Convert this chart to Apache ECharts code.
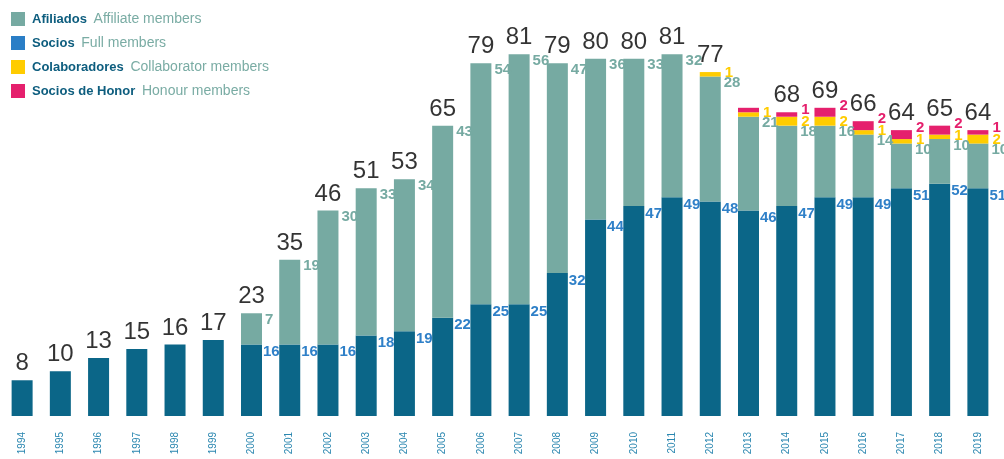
<!DOCTYPE html>
<html>
<head>
<meta charset="utf-8">
<script src="https://cdn.jsdelivr.net/npm/echarts@6/dist/echarts.min.js"></script>
<style>
  html, body { margin: 0; padding: 0; background: #fff; }
  #chart { width: 1004px; height: 459px; }
</style>
</head>
<body>
<div id="chart"></div>
<script>
const years = ['1994','1995','1996','1997','1998','1999','2000','2001','2002','2003','2004','2005','2006',
  '2007','2008','2009','2010','2011','2012','2013','2014','2015','2016','2017','2018','2019'];
const fullMembers = [8,10,13,15,16,17,16,16,16,18,19,22,25,25,32,44,47,49,48,46,47,49,49,51,52,51];
const affiliates  = [0,0,0,0,0,0,7,19,30,33,34,43,54,56,47,36,33,32,28,21,18,16,14,10,10,10];
const collaborators = [0,0,0,0,0,0,0,0,0,0,0,0,0,0,0,0,0,0,1,1,2,2,1,1,1,2];
const honour = [0,0,0,0,0,0,0,0,0,0,0,0,0,0,0,0,0,0,0,1,1,2,2,2,2,1];
// 2013 has no total and no honour label in the original
const totals = [8,10,13,15,16,17,23,35,46,51,53,65,79,81,79,80,80,81,77,null,68,69,66,64,65,64];
const unlabelledHonour = ['2013'];

const legendText = {
  'Afiliados': 'Affiliate members',
  'Socios': 'Full members',
  'Colaboradores': 'Collaborator members',
  'Socios de Honor': 'Honour members'
};

var chart = echarts.init(document.getElementById('chart'));

const smallLabel = (color) => ({
  show: true,
  color: color,
  fontFamily: 'Liberation Sans',
  fontWeight: 'bold',
  fontSize: 15
});

const option = {
  animation: false,
  grid: { left: 3, right: 7, top: 14, bottom: 43 },
  legend: {
    orient: 'vertical',
    left: 11,
    top: 12,
    padding: 0,
    itemWidth: 14,
    itemHeight: 14,
    itemGap: 10,
    icon: 'rect',
    data: [
      { name: 'Afiliados', itemStyle: { color: '#76aaa2' } },
      { name: 'Socios', itemStyle: { color: '#2a7ec6' } },
      { name: 'Colaboradores', itemStyle: { color: '#ffcc00' } },
      { name: 'Socios de Honor', itemStyle: { color: '#e5206d' } }
    ],
    formatter: (name) => '{a|' + name + '}  {b|' + legendText[name] + '}',
    textStyle: {
      padding: [0, 0, 0, 2],
      rich: {
        a: { color: '#0d5d7e', fontWeight: 'bold', fontSize: 13, fontFamily: 'Liberation Sans', lineHeight: 14 },
        b: { color: '#7aaca4', fontSize: 14, fontFamily: 'Liberation Sans', lineHeight: 14 }
      }
    }
  },
  xAxis: {
    type: 'category',
    data: years,
    axisLine: { show: false },
    axisTick: { show: false },
    axisLabel: {
      rotate: 90,
      margin: 16,
      color: '#2b87b0',
      fontSize: 10,
      fontFamily: 'Liberation Sans'
    }
  },
  yAxis: {
    type: 'value',
    min: 0,
    max: 90,
    show: false,
    splitLine: { show: false }
  },
  series: [
    {
      name: 'Socios',
      type: 'bar',
      stack: 'm',
      barWidth: 21,
      data: fullMembers,
      itemStyle: { color: '#0b6688' },
      label: Object.assign(smallLabel('#2f80c8'), {
        position: ['100%', 0],
        offset: [1, 0],
        align: 'left',
        verticalAlign: 'top',
        formatter: (p) => affiliates[p.dataIndex] > 0 ? String(p.value) : ''
      })
    },
    {
      name: 'Afiliados',
      type: 'bar',
      stack: 'm',
      data: affiliates,
      itemStyle: { color: '#76aaa2' },
      label: Object.assign(smallLabel('#76aaa2'), {
        position: ['100%', 0],
        offset: [3, -1],
        align: 'left',
        verticalAlign: 'top',
        formatter: (p) => p.value > 0 ? String(p.value) : ''
      })
    },
    {
      name: 'Colaboradores',
      type: 'bar',
      stack: 'm',
      data: collaborators,
      itemStyle: { color: '#ffcc00' },
      label: Object.assign(smallLabel('#ffcc00'), {
        position: ['100%', '100%'],
        offset: [4, 4],
        align: 'left',
        verticalAlign: 'bottom',
        formatter: (p) => p.value > 0 ? String(p.value) : ''
      })
    },
    {
      name: 'Socios de Honor',
      type: 'bar',
      stack: 'm',
      data: honour,
      itemStyle: { color: '#e5206d' },
      label: Object.assign(smallLabel('#e5206d'), {
        position: ['100%', 0],
        offset: [4, -2],
        align: 'left',
        verticalAlign: 'middle',
        formatter: (p) => (p.value > 0 && unlabelledHonour.indexOf(p.name) < 0) ? String(p.value) : ''
      })
    },
    {
      name: 'total',
      type: 'scatter',
      data: totals,
      symbolSize: 1,
      itemStyle: { color: 'transparent' },
      silent: true,
      label: {
        show: true,
        position: 'top',
        distance: 4,
        color: '#000',
        fontSize: 24,
        fontFamily: 'Liberation Sans',
        formatter: (p) => p.value == null ? '' : String(p.value)
      }
    }
  ]
};

chart.setOption(option);
</script>
</body>
</html>
